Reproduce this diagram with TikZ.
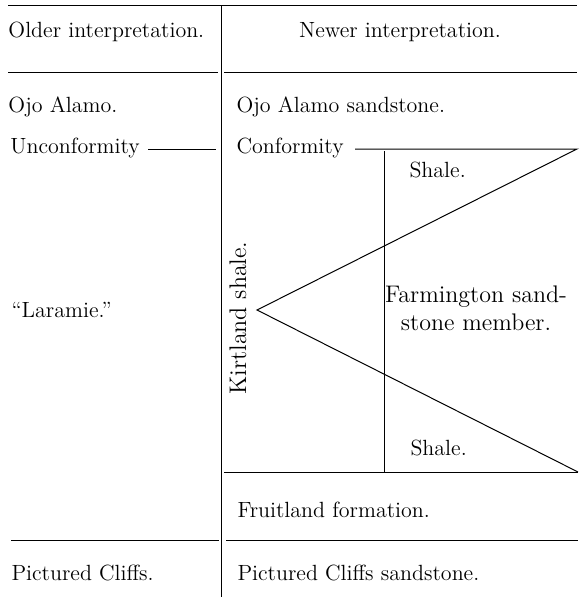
\documentclass[tikz,border=0pt]{standalone}
\usetikzlibrary{positioning}
\begin{document}
\begin{tikzpicture}[x=0.5pt,y=-0.5pt,line width=0.5pt,
  font=\fontsize{11}{13.5}\selectfont,
  txt/.style={anchor=base west,inner sep=0pt},
  mid/.style={anchor=base,inner sep=0pt},
  big/.style={font=\fontsize{12}{14}\selectfont}]
\useasboundingbox (0,0) rectangle (583,605);
% rules of the table
\coordinate (TL) at (8,5);     \coordinate (TR) at (577,5);
\coordinate (DT) at (221,5);   \coordinate (DB) at (221,597);
\coordinate (HL) at (8,72);    \coordinate (HM) at (218,72);
\coordinate (HN) at (224,72);  \coordinate (HR) at (577,72);
\coordinate (FL) at (11,540);  \coordinate (FM) at (219,540);
\coordinate (FN) at (226,540); \coordinate (FR) at (578,540);
% wedge
\coordinate (UA) at (148,149); \coordinate (UB) at (216,149);
\coordinate (CA) at (355,149); \coordinate (CB) at (577,149);
\coordinate (V1) at (384,151); \coordinate (V2) at (384,472);
\coordinate (AP) at (257,310);
\coordinate (BA) at (224,472); \coordinate (BB) at (578,472);

\node[txt] (older) at (8,37)   {Older interpretation.};
\node[mid] (newer) at (400,37) {Newer interpretation.};
\node[txt] (ojo)   at (8,112)  {Ojo Alamo.};
\node[txt] (ojos)  [right=228*0.5pt of ojo.base west,anchor=base west] {Ojo Alamo sandstone.};
\node[txt] (unc)   at (10,153) {Unconformity};
\node[txt] (conf)  at (236,153) {Conformity};
\node[txt] (shup)  at (409,177) {Shale.};
\node[anchor=west,inner sep=0pt] (lar) at (11,310) {``Laramie.''};
\node[big,rotate=90,inner sep=0pt] (kirt) at (238,318) {Kirtland shale.};
\node[big,align=center,inner sep=0pt] (farm) at (476,308) {Farmington sand-\\stone member.};
\node[txt] (shlo)  at (410,455) {Shale.};
\node[txt] (fruit) at (237,517) {Fruitland formation.};
\node[txt] (pcl)   at (11,580) {Pictured Cliffs.};
\node[txt] (pcs)   at (237,580) {Pictured Cliffs sandstone.};

\draw (TL) -- (TR);
\draw (DT) -- (DB);
\draw (HL) -- (HM) (HN) -- (HR);
\draw (FL) -- (FM) (FN) -- (FR);
\draw (UA) -- (UB);
\draw (CA) -- (CB) -- (AP) -- (BB);
\draw (V1) -- (V2);
\draw (BA) -- (BB);
\end{tikzpicture}
\end{document}
